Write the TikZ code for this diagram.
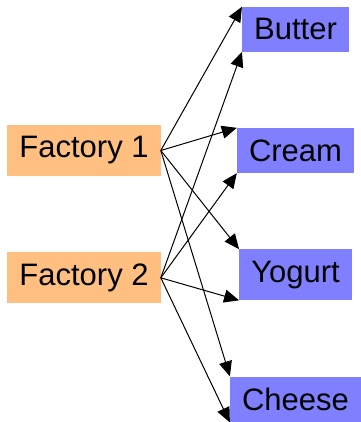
\documentclass[tikz,border=0pt]{standalone}
\usepackage{fontspec}
\setmainfont{Liberation Sans}
\usepackage{xcolor}
\usepackage{tikz}
\usetikzlibrary{arrows.meta, positioning}
\tikzset{
	node distance = 76pt,
	line width = 1pt,
	>={Triangle[length=15pt, width=13pt]},
	font = \fontsize{31}{37}\selectfont,
	factory/.style={
		fill=orange!50,
		inner xsep=12pt,
		inner ysep=11.5pt
	},
	product/.style={
		fill=blue!50,
		inner xsep=12pt,
		inner ysep=11.5pt
	},
	edge/.style={
		->,
		line width=1pt
	}
}

\begin{document}
\begin{tikzpicture}
		\useasboundingbox (-84pt,-271.5pt) rectangle (276pt,150.5pt);

		\node[factory] at (0,0) (f1) {Factory 1};
		\node[factory, below=of f1] (f2) {Factory 2};

		\node[product, right=of f1] (cream) {Cream};
		\node[product, above=of cream] (butter) {Butter};
		\node[product, below=of cream] (yogurt) {Yogurt};
		\node[product, below=of yogurt] (cheese) {Cheese};

		\foreach \p in {butter, cream, yogurt, cheese} {
			\draw[edge] (f1.east) to (\p.north west);
			\draw[edge] (f2.east) to (\p.south west);
		}
	\end{tikzpicture}
\end{document}
